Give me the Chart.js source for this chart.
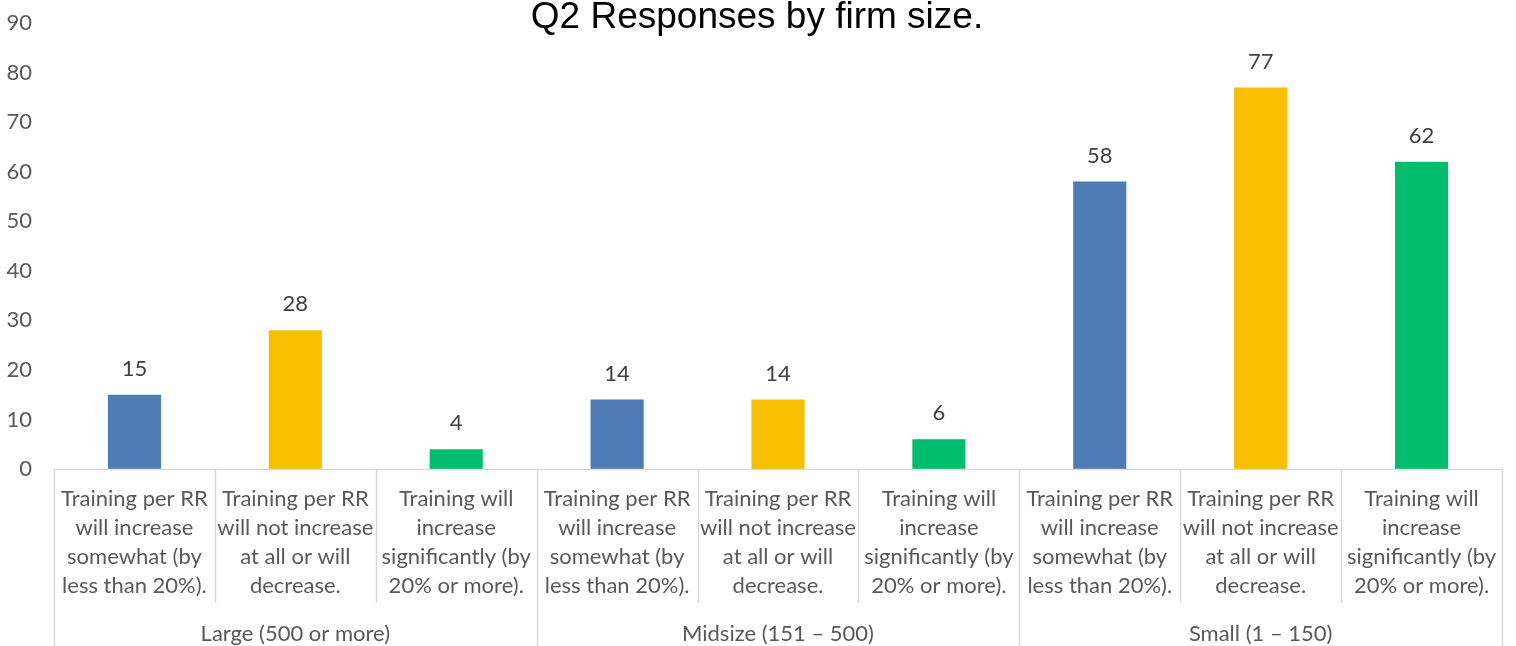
<!DOCTYPE html>
<html><head><meta charset="utf-8">
<script src="https://cdn.jsdelivr.net/npm/chart.js@4.4.0/dist/chart.umd.min.js"></script>
<style>html,body{margin:0;padding:0;background:#fff}#wrap{width:1516px;height:646px;position:relative}</style>
</head><body><div id="wrap"><canvas id="c"></canvas></div>
<script>
const chartTitle = "Q2 Responses by firm size.";
const groups = ["Large (500 or more)", "Midsize (151 – 500)", "Small (1 – 150)"];
const responses = [
  ["Training per RR", "will increase", "somewhat (by", "less than 20%)."],
  ["Training per RR", "will not increase", "at all or will", "decrease."],
  ["Training will", "increase", "significantly (by", "20% or more)."]
];
const values = [15, 28, 4, 14, 14, 6, 58, 77, 62];
const responseColors = ["#4F7BB5", "#F8BE00", "#00BC6D"];
const yMin = 0, yMax = 90, yStep = 10;

const labels = [];
const colors = [];
groups.forEach(g => responses.forEach((r, i) => { labels.push(r); colors.push(responseColors[i]); }));

const FONT = "Lato, 'Open Sans', sans-serif";
const FS = 22;
const LINE = "#D9D9D9";

const overlay = {
  id: 'overlay',
  afterDraw(chart) {
    const ctx = chart.ctx, x = chart.scales.x, y = chart.scales.y, ca = chart.chartArea;
    const n = labels.length;
    const w = (x.getPixelForValue(1) - x.getPixelForValue(0));
    ctx.save();
    // title
    ctx.fillStyle = "#000";
    ctx.font = "37px 'Liberation Sans', Arial, sans-serif";
    ctx.textAlign = "center"; ctx.textBaseline = "alphabetic";
    ctx.fillText(chartTitle, 757, 28);
    // data labels
    const meta = chart.getDatasetMeta(0);
    ctx.fillStyle = "#404040";
    ctx.font = FS + "px " + FONT;
    ctx.textBaseline = "middle";
    meta.data.forEach((bar, i) => {
      ctx.fillText(String(values[i]), bar.x, bar.y - 26);
    });
    // axis line
    ctx.strokeStyle = LINE; ctx.lineWidth = 1.5;
    ctx.beginPath();
    ctx.moveTo(ca.left, ca.bottom + 0.5); ctx.lineTo(ca.right, ca.bottom + 0.5);
    for (let i = 0; i <= n; i++) {
      const px = Math.round(x.getPixelForValue(0) - w / 2 + i * w) + 0.5;
      const isGroup = i % responses.length === 0;
      ctx.moveTo(px, ca.bottom);
      ctx.lineTo(px, isGroup ? 646 : 603);
    }
    ctx.stroke();
    // category labels
    ctx.fillStyle = "#595959";
    ctx.font = FS + "px " + FONT;
    labels.forEach((lines, i) => {
      const cx = x.getPixelForValue(i);
      lines.forEach((t, j) => ctx.fillText(t, cx, 499 + j * 29));
    });
    groups.forEach((g, gi) => {
      const c0 = x.getPixelForValue(gi * 3), c2 = x.getPixelForValue(gi * 3 + 2);
      ctx.fillText(g, (c0 + c2) / 2, 634);
    });
    ctx.restore();
  }
};

new Chart(document.getElementById('c'), {
  type: 'bar',
  data: {
    labels: labels.map(l => l.join(' ')),
    datasets: [{ data: values, backgroundColor: colors, barPercentage: 0.33, categoryPercentage: 1 }]
  },
  options: {
    responsive: true, maintainAspectRatio: false, animation: false,
    layout: { padding: { top: 23, right: 14, bottom: 177, left: 0 } },
    plugins: { legend: { display: false }, tooltip: { enabled: false }, title: { display: false } },
    scales: {
      x: { display: false },
      y: {
        min: yMin, max: yMax,
        ticks: { stepSize: yStep, padding: 22, color: "#595959", font: { family: FONT, size: FS } },
        grid: { display: false, drawTicks: false },
        border: { display: false },
        afterFit(s) { s.width = 54; s.paddingTop = 0; s.paddingBottom = 0; }
      }
    }
  },
  plugins: [overlay]
});
</script></body></html>
